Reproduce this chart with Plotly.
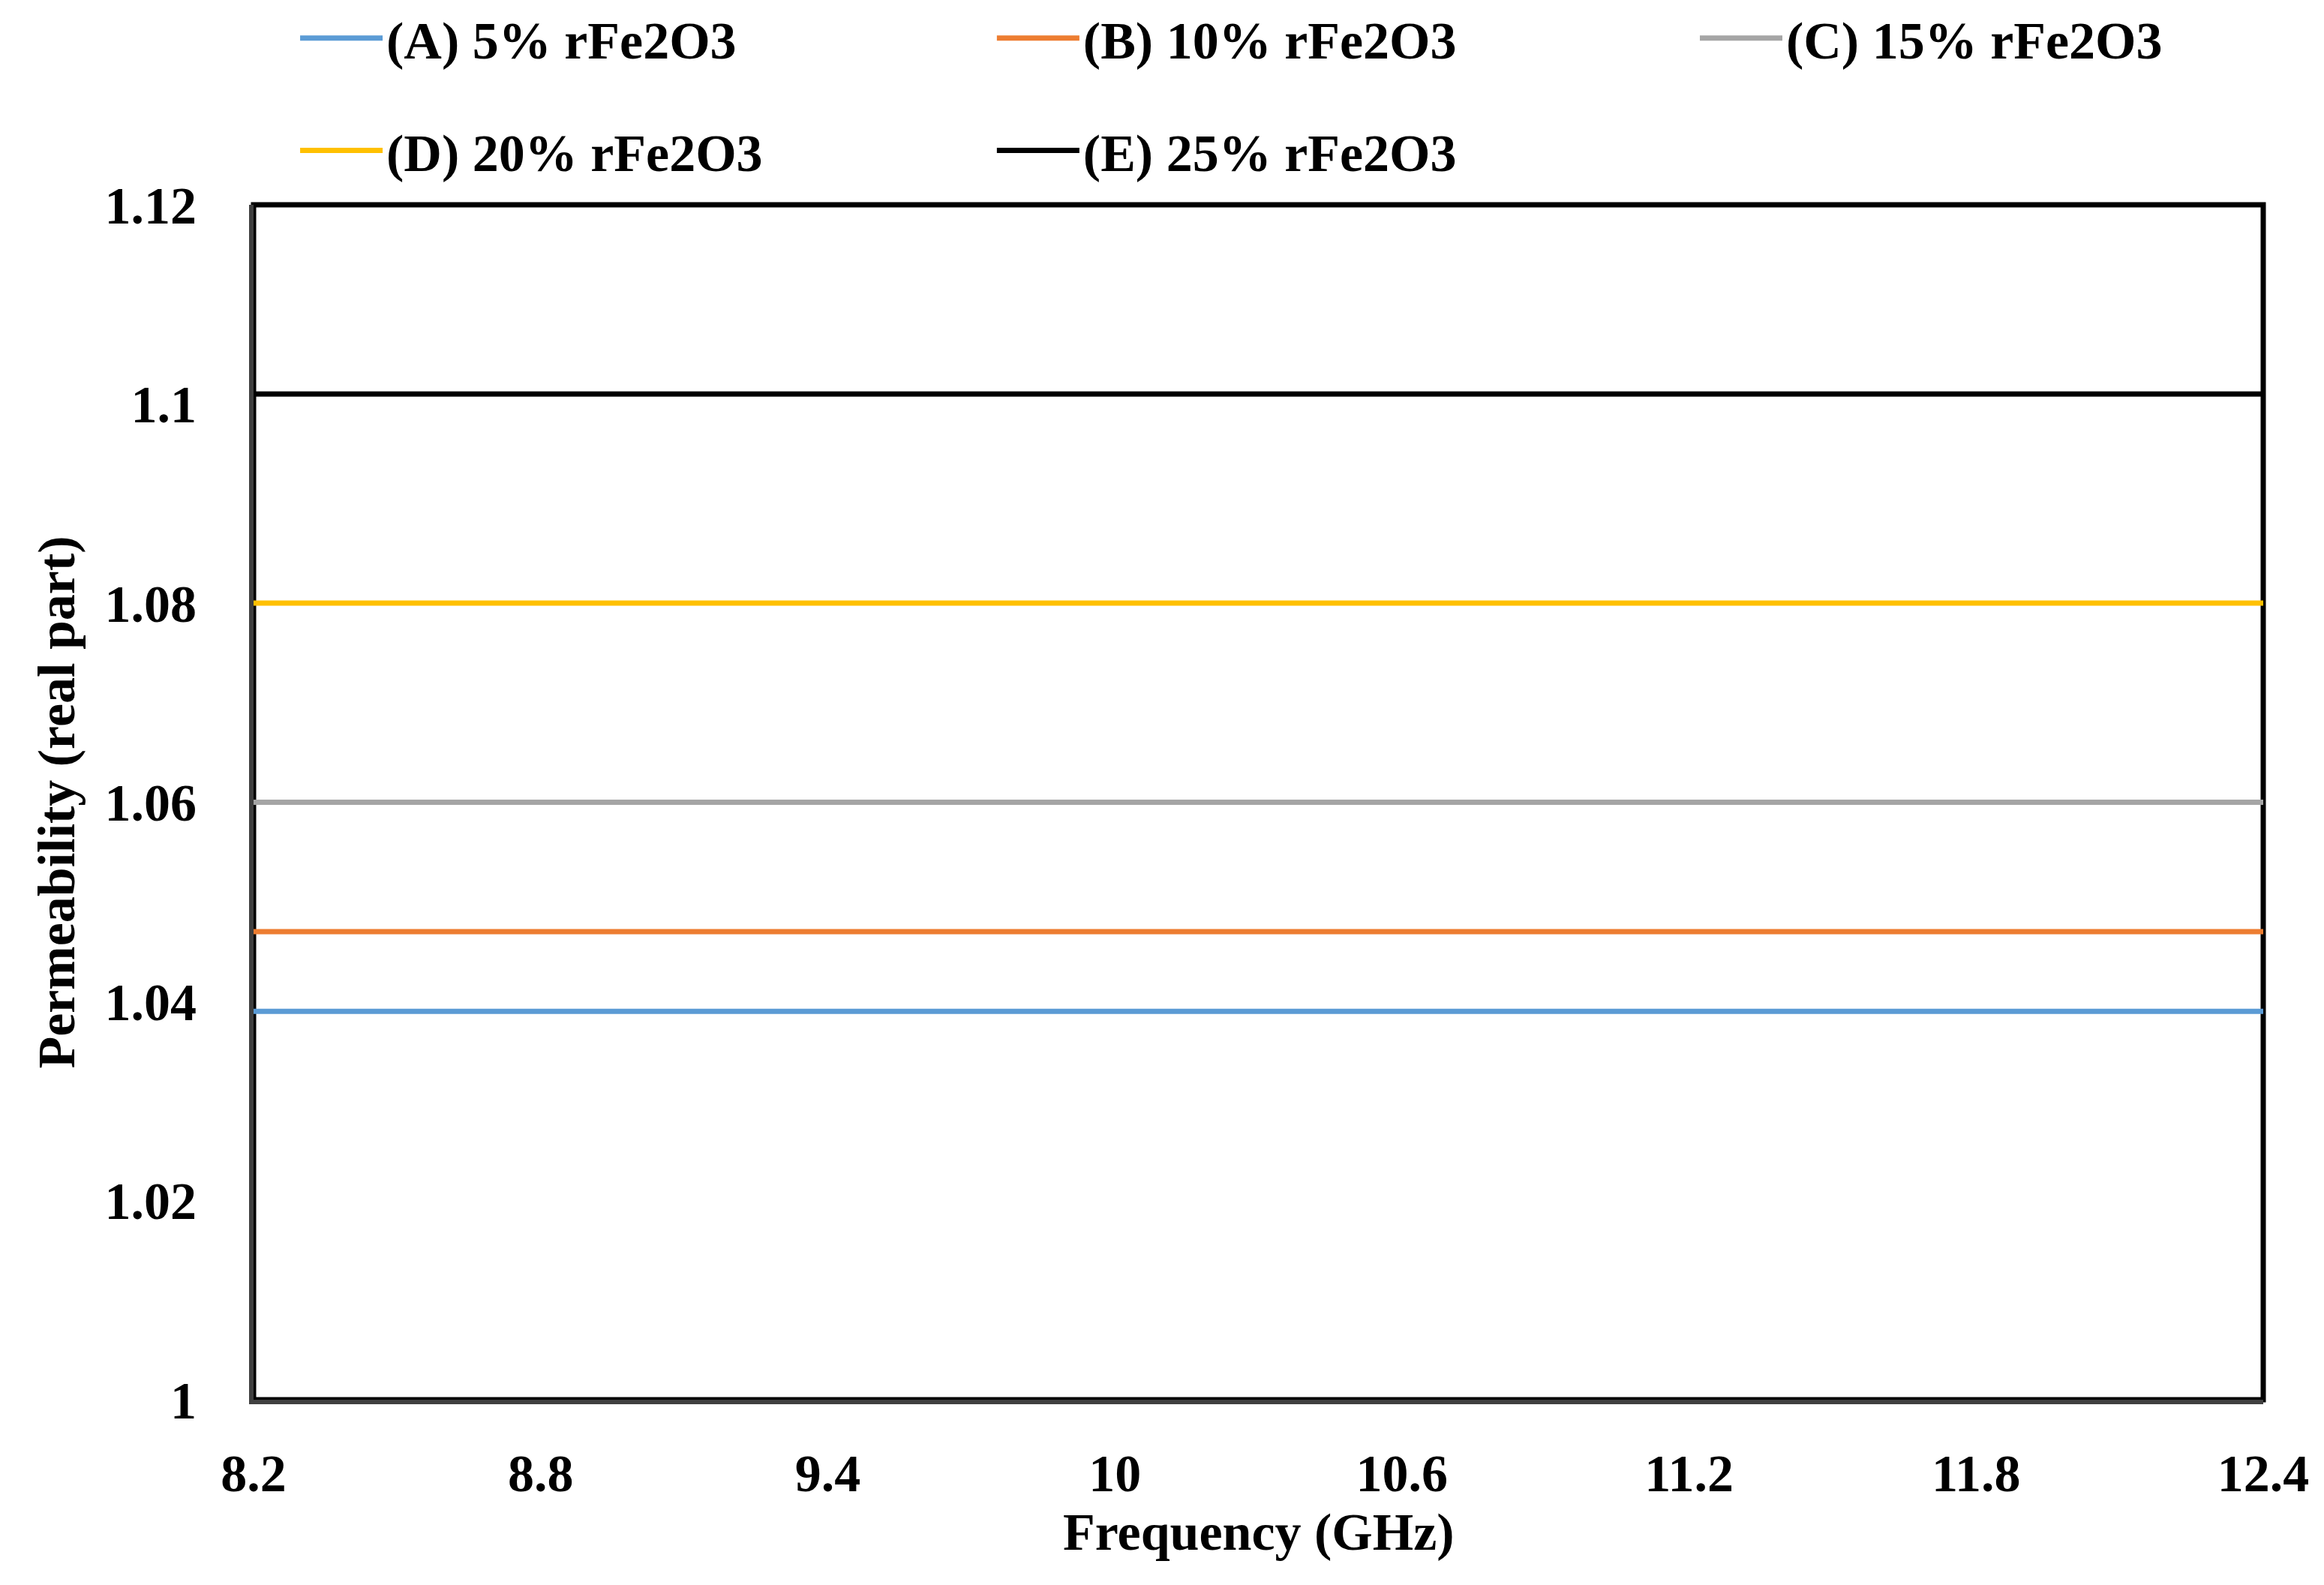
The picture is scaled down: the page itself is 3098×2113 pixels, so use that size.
import plotly.graph_objects as go

# ---- data ----
frequency_ghz = [8.2, 9.0, 10.0, 11.0, 12.0, 12.4]
series_names = ["(A) 5% rFe2O3", "(B) 10% rFe2O3", "(C) 15% rFe2O3",
                "(D) 20% rFe2O3", "(E) 25% rFe2O3"]
perm_A = [1.039, 1.039, 1.039, 1.039, 1.039, 1.039]
perm_B = [1.047, 1.047, 1.047, 1.047, 1.047, 1.047]
perm_C = [1.060, 1.060, 1.060, 1.060, 1.060, 1.060]
perm_D = [1.080, 1.080, 1.080, 1.080, 1.080, 1.080]
perm_E = [1.101, 1.101, 1.101, 1.101, 1.101, 1.101]
series_values = [perm_A, perm_B, perm_C, perm_D, perm_E]
series_colors = ["#5B9BD5", "#ED7D31", "#A5A5A5", "#FFC000", "#000000"]

x_tick_vals = [8.2, 8.8, 9.4, 10.0, 10.6, 11.2, 11.8, 12.4]
x_tick_text = ["8.2", "8.8", "9.4", "10", "10.6", "11.2", "11.8", "12.4"]
y_tick_vals = [1.00, 1.02, 1.04, 1.06, 1.08, 1.10, 1.12]
y_tick_text = ["1", "1.02", "1.04", "1.06", "1.08", "1.1", "1.12"]
x_title = "Frequency (GHz)"
y_title = "Permeability (real part)"

FONT = "Liberation Serif"
FS = 70
bold_font = dict(family=FONT, size=FS, color="black", weight="bold")

# legend slot per series: (legend id, paper x, paper y)
legend_ids = ["legend", "legend2", "legend3", "legend4", "legend5"]
legend_x = [0.0213, 0.368, 0.7178, 0.0213, 0.368]
legend_y = [1.1395, 1.1395, 1.1395, 1.0455, 1.0455]

fig = go.Figure()
for name, vals, col, lid in zip(series_names, series_values, series_colors, legend_ids):
    fig.add_trace(go.Scatter(
        x=frequency_ghz, y=vals, mode="lines", name=name,
        line=dict(color=col, width=7),
        legend=lid,
    ))

legends = {}
for lid, lx, ly in zip(legend_ids, legend_x, legend_y):
    legends[lid] = dict(
        x=lx, y=ly, xanchor="left", yanchor="middle", orientation="v",
        font=bold_font, itemwidth=110,
        bgcolor="rgba(0,0,0,0)", borderwidth=0,
    )

fig.update_layout(
    width=3098, height=2113,
    margin=dict(l=330, r=89, t=265, b=255, autoexpand=False),
    paper_bgcolor="white", plot_bgcolor="white",
    font=bold_font,
    showlegend=True,
    shapes=[dict(type="rect", xref="paper", yref="paper", x0=0, y0=0, x1=1, y1=1,
                 line=dict(color="black", width=7), layer="below")],
    annotations=[dict(text=x_title, xref="paper", yref="paper", x=0.5, y=-0.111,
                      xanchor="center", yanchor="middle", showarrow=False, font=bold_font)],
    **legends,
)

fig.update_xaxes(
    range=[8.2, 12.4], tickvals=x_tick_vals, ticktext=x_tick_text,
    showgrid=False, zeroline=False, showline=True, linecolor="#404040", linewidth=6,
    ticks="", ticklabelstandoff=32,
    tickfont=bold_font,
)
fig.update_yaxes(
    range=[1.0, 1.12], tickvals=y_tick_vals, ticktext=y_tick_text,
    showgrid=False, zeroline=False, showline=True, linecolor="#404040", linewidth=6,
    ticks="", ticklabelstandoff=56,
    tickfont=bold_font,
    title=dict(text=y_title, standoff=19, font=bold_font),
)

fig.write_html("out.html")
